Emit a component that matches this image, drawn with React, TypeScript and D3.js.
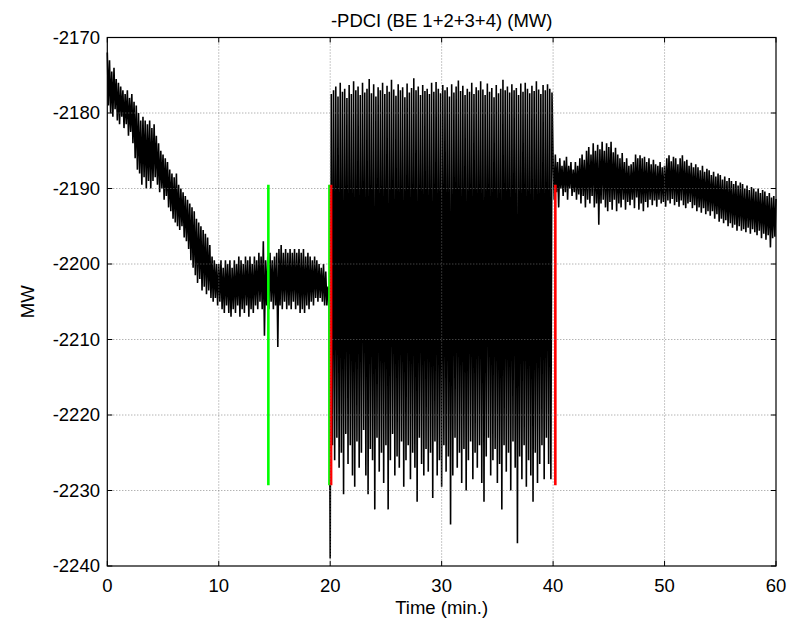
import React from 'react';
import * as d3 from 'd3';

// sample spacing of the recorded signal (minutes)
const sampleStep = 0.1;

// -PDCI power, 0.0 .. 19.9 min
const seg1 = [
  -2172, -2179, -2173, -2180, -2174.5, -2180.5, -2174, -2179.5, -2175.5, -2181,
  -2176, -2181.5, -2176.5, -2180.5, -2177, -2182, -2177.5, -2181.5, -2177, -2183,
  -2178, -2182.5, -2177.5, -2184, -2178.5, -2186, -2179, -2187.5, -2180, -2188,
  -2181, -2189.5, -2180.5, -2188.5, -2181, -2190, -2181.5, -2189, -2181, -2190,
  -2182, -2189, -2181.5, -2188.5, -2183, -2189.5, -2184, -2190.5, -2185, -2190,
  -2185.5, -2191.5, -2186, -2191, -2186.5, -2192.5, -2187.5, -2193, -2188, -2194,
  -2188.5, -2194.5, -2188, -2195, -2189.5, -2195.5, -2190, -2195, -2190.5, -2196.5,
  -2191, -2197, -2191.5, -2198, -2192, -2199.5, -2192.5, -2200.5, -2193, -2201.5,
  -2194, -2202.5, -2194.5, -2202, -2195, -2203.5, -2195.5, -2203, -2196, -2204,
  -2196.5, -2203.5, -2197.5, -2204.5, -2199, -2205, -2199.5, -2204.5, -2200, -2205.5,
  -2200, -2205, -2199.5, -2206, -2200.5, -2206.5, -2199.5, -2205.5, -2200, -2206.5,
  -2199.5, -2207, -2200.5, -2206, -2199.5, -2206.5, -2200, -2205.5, -2199, -2207,
  -2199.5, -2206, -2200, -2206.5, -2199, -2205.5, -2199.5, -2207, -2199, -2206,
  -2200, -2206.5, -2199, -2205.5, -2199.5, -2206, -2198.5, -2205, -2199, -2206,
  -2197, -2209.5, -2199.5, -2205.5, -2199, -2206, -2198.5, -2205, -2199.5, -2206,
  -2199, -2205.5, -2198.5, -2211, -2198, -2205.5, -2197.5, -2206, -2198.5, -2205,
  -2198, -2206, -2198.5, -2205.5, -2198, -2206, -2198.5, -2205, -2198, -2206,
  -2198.5, -2205.5, -2198, -2206.5, -2198.5, -2206, -2198, -2206.5, -2199, -2205.5,
  -2198.5, -2206, -2199, -2205, -2199.5, -2205.5, -2199, -2204.5, -2199.5, -2205,
  -2200, -2204.5, -2200.5, -2205, -2200, -2205.5, -2201, -2205.5, -2203, -2204,
];

// 20.0 .. 39.9 min (oscillation)
const seg2 = [
  -2239, -2177.5, -2224, -2177, -2226, -2176.5, -2223, -2177.8, -2227, -2176,
  -2225, -2177.2, -2230.5, -2176.8, -2222.5, -2178, -2226.5, -2176.3, -2224, -2177.5,
  -2228, -2175.8, -2229.5, -2177, -2223.5, -2176.5, -2227, -2177.6, -2225, -2176,
  -2222, -2177.3, -2228, -2176.8, -2230.5, -2175.5, -2224.5, -2177.4, -2226, -2176.2,
  -2232.5, -2177.8, -2223, -2176.6, -2227.5, -2177, -2225, -2176, -2229, -2177.5,
  -2224, -2176.4, -2232.5, -2177.2, -2226, -2175.6, -2222.5, -2176.9, -2228, -2177.7,
  -2225.5, -2176.2, -2227, -2177, -2223.5, -2176.6, -2229.5, -2177.9, -2226, -2176.1,
  -2224, -2177.3, -2228.5, -2176.7, -2225, -2175.4, -2227, -2177, -2231.5, -2176.5,
  -2223, -2177.6, -2226.5, -2176.3, -2228, -2177.1, -2224.5, -2176.8, -2227.5, -2177.5,
  -2225, -2176, -2231, -2177.2, -2223.5, -2175.9, -2228, -2176.8, -2226, -2177.4,
  -2229.5, -2176.3, -2224, -2177, -2227.5, -2176.6, -2225.5, -2177.8, -2234.5, -2176.2,
  -2228, -2177.3, -2223, -2176.5, -2227, -2175.7, -2225, -2177.1, -2229, -2176.4,
  -2224.5, -2177.6, -2230, -2176.8, -2226, -2177.2, -2223.5, -2176, -2228.5, -2177.5,
  -2225, -2176.6, -2227, -2177, -2224, -2175.8, -2229, -2176.9, -2231.5, -2177.6,
  -2225.5, -2176.1, -2223, -2177.2, -2228, -2176.7, -2226, -2177.9, -2224.5, -2176.3,
  -2229, -2177.4, -2226.5, -2176.8, -2232.5, -2175.6, -2224, -2177, -2227.5, -2176.5,
  -2225, -2177.3, -2230, -2176.2, -2223.5, -2177, -2227, -2176.7, -2237, -2177.6,
  -2225.5, -2176.1, -2228.5, -2177.2, -2224, -2176, -2229.5, -2176.8, -2226, -2177.4,
  -2228, -2176.4, -2231.5, -2177.1, -2225, -2175.8, -2229, -2176.9, -2226.5, -2177.5,
  -2224, -2176.3, -2228.5, -2177, -2223, -2176.2, -2226.5, -2176.8, -2228.5, -2177.3,
];

// 40.0 .. 60.0 min
const seg3 = [
  -2186, -2191.5, -2185.5, -2190.5, -2186.5, -2192.5, -2186, -2190, -2187, -2191,
  -2186.3, -2190.5, -2185.8, -2191.5, -2187, -2190, -2186.5, -2191, -2187.5, -2190.5,
  -2186.5, -2191.5, -2187, -2190.8, -2186, -2192, -2185.5, -2191, -2186.2, -2192.5,
  -2185, -2191.5, -2184.5, -2192, -2185.5, -2191, -2184, -2192.5, -2185, -2192,
  -2184.2, -2194.8, -2184.8, -2192, -2183.8, -2191.5, -2185, -2192.5, -2184, -2193,
  -2184.5, -2191.8, -2183.8, -2192.8, -2185.2, -2191.5, -2184.6, -2193, -2185.5, -2192,
  -2186, -2192.5, -2185.3, -2191.5, -2186.5, -2192.8, -2186, -2191.8, -2187, -2192.2,
  -2186.8, -2191.5, -2186.5, -2192.6, -2185.5, -2191.2, -2186, -2192.8, -2185.6, -2192,
  -2186, -2193, -2185.8, -2191.8, -2186.5, -2192.5, -2186, -2191.5, -2186.8, -2192.2,
  -2186.2, -2191.6, -2186.8, -2192.4, -2187, -2191.5, -2186.5, -2192, -2187.2, -2191.8,
  -2187, -2192.4, -2186, -2191.6, -2185.6, -2192, -2186.4, -2191.4, -2185.8, -2192.2,
  -2186, -2191.8, -2186.8, -2192.4, -2186, -2191.6, -2185.6, -2192.2, -2186.4, -2192.6,
  -2186.2, -2192, -2187, -2191.8, -2186.6, -2192.6, -2187.2, -2192.2, -2186.8, -2193,
  -2187.2, -2192.5, -2187.6, -2193.2, -2187, -2192.6, -2187.8, -2193.4, -2187.4, -2193,
  -2187.6, -2193.6, -2188.2, -2193, -2187.8, -2194, -2188.4, -2193.4, -2188, -2194.4,
  -2188.2, -2194, -2188.8, -2194.6, -2188.4, -2194.2, -2189, -2195, -2188.6, -2194.6,
  -2189, -2195.2, -2189.4, -2194.8, -2189, -2195.6, -2189.6, -2195, -2189.2, -2195.6,
  -2189.4, -2195.4, -2190, -2195.8, -2189.6, -2195.2, -2190.2, -2196, -2189.8, -2195.4,
  -2190, -2195.8, -2190.4, -2196.2, -2190, -2195.6, -2190.6, -2196.6, -2190.2, -2196,
  -2190.4, -2196.8, -2191, -2196.2, -2190.6, -2197.8, -2191.2, -2196.6, -2191, -2196.4,
  -2191.4,
];

// event markers (minutes) and their vertical extent (MW)
const greenMarkers = [14.45, 19.93];
const redMarkers = [20.08, 40.2];
const markerSpan = [-2189.5, -2229.3];

const xTicks = [0, 10, 20, 30, 40, 50, 60];
const yTicks = [-2240, -2230, -2220, -2210, -2200, -2190, -2180, -2170];

const W = 800;
const H = 622;
const margin = { top: 37.5, right: 24, bottom: 56, left: 107.3 };
const font = '"Liberation Sans", Arial, sans-serif';

export default function App() {
  const x = d3.scaleLinear().domain([0, 60]).range([margin.left, W - margin.right]);
  const y = d3.scaleLinear().domain([-2240, -2170]).range([H - margin.bottom, margin.top]);

  const series = [...seg1, ...seg2, ...seg3].map((v, i) => ({ t: i * sampleStep, v }));
  const line = d3.line<{ t: number; v: number }>().x(d => x(d.t)).y(d => y(d.v));

  const x0 = x(0), x1 = x(60), y0 = y(-2240), y1 = y(-2170);
  const tick = 5;

  return (
    <svg width={W} height={H} style={{ position: 'absolute', left: 0, top: 0, background: '#fff' }}>
      <rect x={0} y={0} width={W} height={H} fill="#fff" />

      {/* signal */}
      <path d={line(series) || ''} fill="none" stroke="#000" strokeWidth={1.6} strokeLinejoin="bevel" />

      {/* markers */}
      {greenMarkers.map(t => (
        <line key={'g' + t} x1={x(t)} x2={x(t)} y1={y(markerSpan[0])} y2={y(markerSpan[1])}
          stroke="#00ff00" strokeWidth={2.6} />
      ))}
      {redMarkers.map(t => (
        <line key={'r' + t} x1={x(t)} x2={x(t)} y1={y(markerSpan[0])} y2={y(markerSpan[1])}
          stroke="#ff0000" strokeWidth={2.6} />
      ))}

      {/* grid, drawn over the data like the original */}
      {xTicks.slice(1, -1).map(t => (
        <line key={'gx' + t} x1={x(t)} x2={x(t)} y1={y1} y2={y0}
          stroke="#777" strokeWidth={0.8} strokeDasharray="1 2" />
      ))}
      {yTicks.slice(1, -1).map(t => (
        <line key={'gy' + t} x1={x0} x2={x1} y1={y(t)} y2={y(t)}
          stroke="#777" strokeWidth={0.8} strokeDasharray="1 2" />
      ))}

      {/* box and ticks */}
      <rect x={x0} y={y1} width={x1 - x0} height={y0 - y1} fill="none" stroke="#000" strokeWidth={1.2} />
      {xTicks.map(t => (
        <g key={'tx' + t}>
          <line x1={x(t)} x2={x(t)} y1={y0} y2={y0 - tick} stroke="#000" />
          <line x1={x(t)} x2={x(t)} y1={y1} y2={y1 + tick} stroke="#000" />
          <text x={x(t)} y={592} textAnchor="middle" fontSize={18.5} fontFamily={font}>{t}</text>
        </g>
      ))}
      {yTicks.map(t => (
        <g key={'ty' + t}>
          <line x1={x0} x2={x0 + tick} y1={y(t)} y2={y(t)} stroke="#000" />
          <line x1={x1} x2={x1 - tick} y1={y(t)} y2={y(t)} stroke="#000" />
          <text x={100} y={y(t)} dy="0.35em" textAnchor="end" fontSize={18.5} fontFamily={font}>{t}</text>
        </g>
      ))}

      {/* labels */}
      <text x={(x0 + x1) / 2} y={27} textAnchor="middle" fontSize={18.5} fontFamily={font}>
        -PDCI (BE  1+2+3+4) (MW)
      </text>
      <text x={(x0 + x1) / 2} y={614} textAnchor="middle" fontSize={18.5} fontFamily={font}>
        Time (min.)
      </text>
      <text transform={`translate(34,${(y0 + y1) / 2}) rotate(-90)`} textAnchor="middle"
        fontSize={18.5} fontFamily={font}>MW</text>
    </svg>
  );
}
